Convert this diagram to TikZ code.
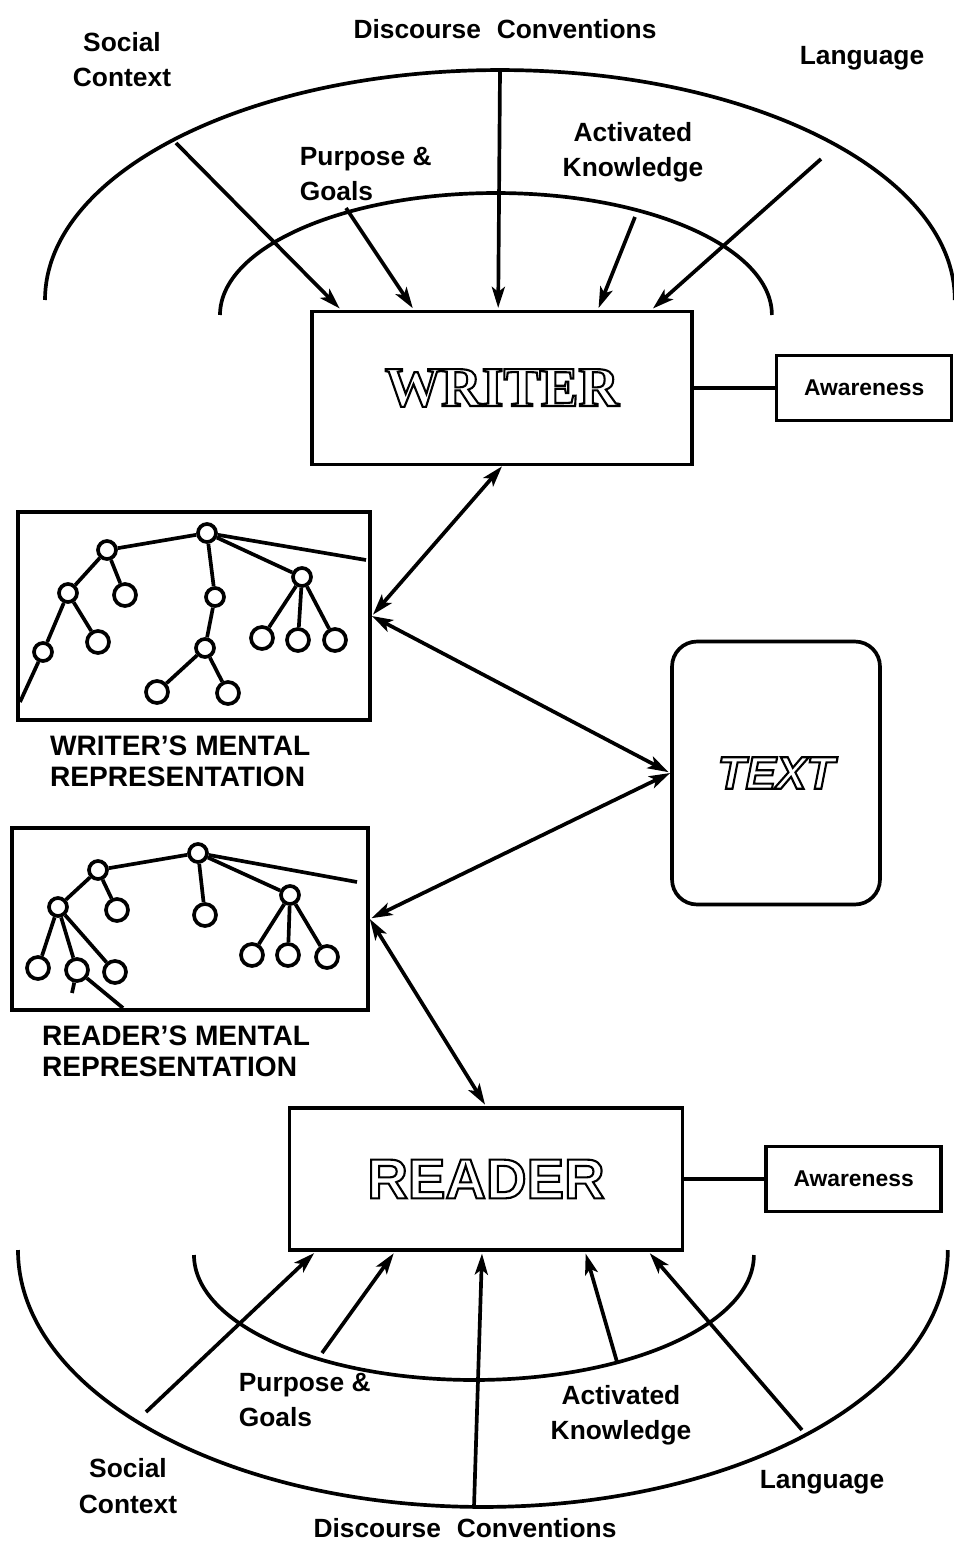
\documentclass[tikz,border=0pt]{standalone}
\usepackage{fontspec}
\setmainfont{Liberation Sans}
\newfontfamily\serifbold{Liberation Serif}
\usepackage{tikz}
\usetikzlibrary{positioning}
\usetikzlibrary{shapes,arrows.meta,calc}
\tikzset{
    %Define standard arrow tip
    >={Stealth[length=0.42cm, width=0.26cm, inset=0.1cm]},
    % Define arrow style
    pil/.style={
           ->,
           line width=2.1pt,
           shorten <=0pt,
           shorten >=1pt,}
}
\newcommand{\lblfont}{\fontsize{15}{20}\selectfont\bfseries}
\newcommand{\hollow}[1]{\special{pdf:literal direct 1 Tr 1.2 w}#1\special{pdf:literal direct 0 Tr 2.09 w}}

\begin{document}
\begin{tikzpicture}[x=0.02cm, y=-0.02cm, node distance=0 cm, line width=2.1pt]
\tikzstyle{agent}=[draw, rectangle, line width=2.1pt, inner sep=0pt]
\tikzstyle{aware}=[draw, rectangle, line width=2.1pt, minimum width=3.5cm, minimum height=1.3cm, font=\fontsize{13}{15}\selectfont\bfseries]
\tikzstyle{mrep}=[draw, rectangle, line width=2.1pt]
\tikzstyle{lbl}=[align=center, font=\lblfont, inner sep=0pt]
\tikzstyle{mlbl}=[align=left, anchor=north west, font=\fontsize{16}{18}\selectfont\bfseries, inner sep=0pt]
\tikzstyle{vert}=[draw, circle, fill=white, line width=2.1pt, minimum size=0.36cm, inner sep=0pt]
\tikzstyle{leaf}=[vert, minimum size=0.44cm]

\useasboundingbox (0,0) rectangle (953,1547);

% writer and its context
\node[agent, minimum width=7.6cm, minimum height=3.06cm] (writer) at (502,388) {\fontsize{32}{36}\selectfont\serifbold\bfseries\hollow{WRITER}};
\node[aware] (aware0) [right = 1.62cm of writer] {Awareness};
\draw (writer) -- (aware0);

\draw (45,300) arc[start angle=180, end angle=0, x radius=9.1cm, y radius=4.6cm];
\draw (220,315) arc[start angle=180, end angle=0, x radius=5.52cm, y radius=2.44cm];

\node[lbl] (soc0) at (122,60) {Social\\Context};
\node[lbl] (dis0) at (505,29) {Discourse\hspace{0.6em}Conventions};
\node[lbl] (lan0) at (862,58) {Language};
\node[lbl, align=left, anchor=west] (pur0) at (298,174) {Purpose \&\\Goals};
\node[lbl] (act0) at (633,152) {Activated\\Knowledge};

\coordinate (wsoc) at (176,143);
\coordinate (wpur) at (346,208);
\coordinate (wdis) at (500,70);
\coordinate (wact) at (635,217);
\coordinate (wlan) at (821,159);

\draw[pil] (wsoc) -- ($(writer.north west)!0.08!(writer.north east)$);
\draw[pil] (wpur) -- ($(writer.north west)!0.27!(writer.north east)$);
\draw[pil] (wdis) -- ($(writer.north west)!0.49!(writer.north east)$);
\draw[pil] (wact) -- ($(writer.north west)!0.75!(writer.north east)$);
\draw[pil] (wlan) -- ($(writer.north west)!0.89!(writer.north east)$);

% text
\node[agent, rounded corners=0.5cm, minimum width=4.16cm, minimum height=5.26cm] (text) at (776,773) {\fontsize{26}{28}\selectfont\bfseries\itshape\hollow{TEXT}};

% writer's mental representation
\node[mrep, minimum width=7.04cm, minimum height=4.16cm] (wmr) at (194,616) {};
\node[mlbl] (wmrlbl) at ($(wmr.south west)+(32,12)$) {WRITER'S MENTAL\\REPRESENTATION};

\node[vert] (wr) at (207,533) {};
\node[vert] (wa) at (107,550) {};
\node[vert] (wb) at (68,593) {};
\node[leaf] (wc) at (125,595) {};
\node[vert] (wd) at (43,652) {};
\node[leaf] (we) at (98,642) {};
\node[vert] (wf) at (215,597) {};
\node[vert] (wg) at (205,648) {};
\node[leaf] (wh) at (157,692) {};
\node[leaf] (wi) at (228,693) {};
\node[vert] (wj) at (302,577) {};
\node[leaf] (wk) at (262,638) {};
\node[leaf] (wl) at (298,640) {};
\node[leaf] (wm) at (335,640) {};
\coordinate (wend0) at (20,702);
\coordinate (wend1) at (366,560);
\foreach \a/\b in {wr/wa, wa/wb, wa/wc, wb/wd, wb/we, wd/wend0, wr/wf, wf/wg, wg/wh, wg/wi, wr/wj, wj/wk, wj/wl, wj/wm, wr/wend1}
    \draw (\a) -- (\b);

% reader's mental representation
\node[mrep, minimum width=7.12cm, minimum height=3.64cm] (rmr) at (190,919) {};
\node[mlbl] (rmrlbl) at ($(rmr.south west)+(30,12)$) {READER'S MENTAL\\REPRESENTATION};

\node[vert] (rr) at (198,853) {};
\node[vert] (ra) at (98,870) {};
\node[vert] (rb) at (58,907) {};
\node[leaf] (rc) at (117,910) {};
\node[leaf] (rd) at (205,915) {};
\node[vert] (rj) at (290,895) {};
\node[leaf] (rk) at (252,955) {};
\node[leaf] (rl) at (288,955) {};
\node[leaf] (rm) at (327,957) {};
\node[leaf] (rn) at (38,968) {};
\node[leaf] (ro) at (77,970) {};
\node[leaf] (rp) at (115,972) {};
\coordinate (rend0) at (357,882);
\coordinate (rend1) at (123,1008);
\coordinate (rend2) at (72,993);
\foreach \a/\b in {rr/ra, ra/rb, ra/rc, rb/rn, rb/ro, rb/rp, rr/rd, rr/rj, rj/rk, rj/rl, rj/rm, rr/rend0, ro/rend1, ro/rend2}
    \draw (\a) -- (\b);

% reader and its context
\node[agent, minimum width=7.86cm, minimum height=2.84cm] (reader) at (486,1179) {\fontsize{32}{36}\selectfont\bfseries\hollow{READER}};
\node[aware] (aware1) [right = 1.6cm of reader] {Awareness};
\draw (reader) -- (aware1);

\draw (18,1250) arc[start angle=180, end angle=360, x radius=9.3cm, y radius=5.14cm];
\draw (194,1255) arc[start angle=180, end angle=360, x radius=5.6cm, y radius=2.5cm];

\node[lbl] (soc1) at (128,1486) {Social\\Context};
\node[lbl] (dis1) at (465,1528) {Discourse\hspace{0.6em}Conventions};
\node[lbl] (lan1) at (822,1482) {Language};
\node[lbl, align=left, anchor=west] (pur1) at (237,1400) {Purpose \&\\Goals};
\node[lbl] (act1) at (621,1415) {Activated\\Knowledge};

\coordinate (rsoc) at (146,1412);
\coordinate (rpur) at (322,1353);
\coordinate (rdis) at (474,1507);
\coordinate (ract) at (617,1362);
\coordinate (rlan) at (802,1430);

\draw[pil] (rsoc) -- ($(reader.south west)!0.07!(reader.south east)$);
\draw[pil] (rpur) -- ($(reader.south west)!0.27!(reader.south east)$);
\draw[pil] (rdis) -- ($(reader.south west)!0.49!(reader.south east)$);
\draw[pil] (ract) -- ($(reader.south west)!0.75!(reader.south east)$);
\draw[pil] (rlan) -- ($(reader.south west)!0.91!(reader.south east)$);

% links through the text
\draw[pil,<->] (writer.south) -- (wmr.east);
\draw[pil,<->] (wmr.east) -- (text.west);
\draw[pil,<->] (text.west) -- (rmr.east);
\draw[pil,<->] (rmr.east) -- (reader.north);

\end{tikzpicture}
\end{document}
